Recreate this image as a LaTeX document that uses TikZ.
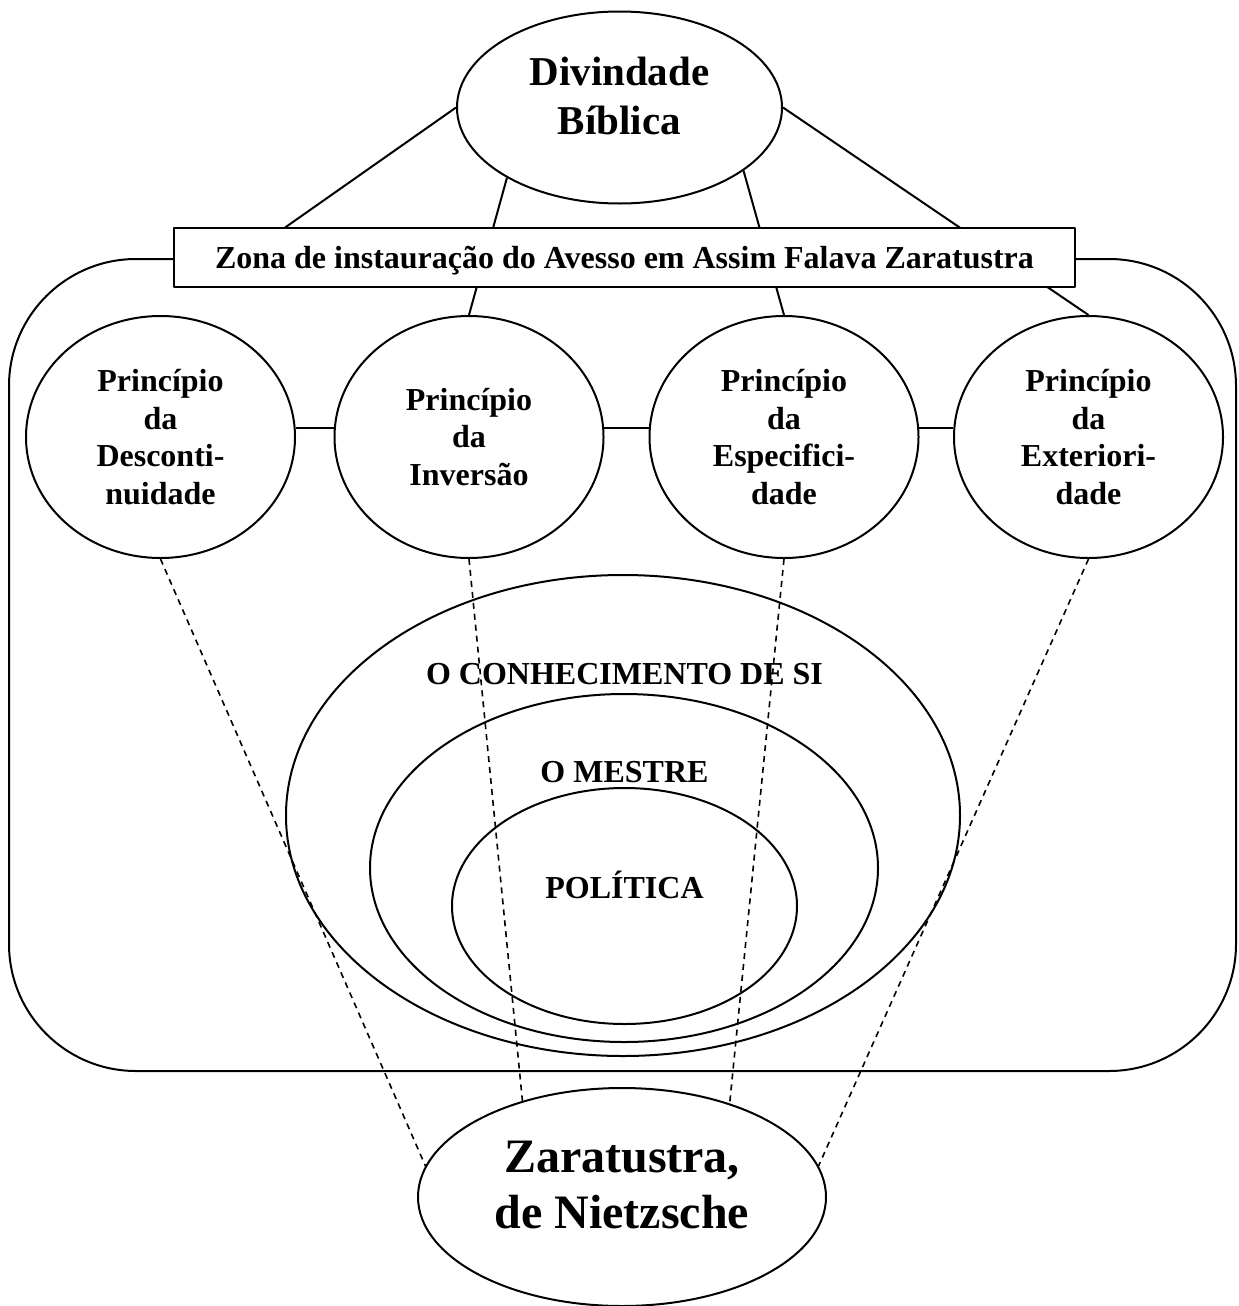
\documentclass[tikz,border=0pt]{standalone}
\usepackage{fontspec}
\setmainfont{Liberation Serif}
\usetikzlibrary{shapes.geometric,calc}
\tikzset{
  linha/.style={line width=1pt},
  elipse/.style={draw,ellipse,linha,inner sep=0pt,align=center},
  principio/.style={elipse,minimum width=134.5pt,minimum height=121pt,
    font=\fontsize{16}{18.7}\selectfont\bfseries},
  rotulo/.style={font=\fontsize{16}{19}\selectfont\bfseries,anchor=base,inner sep=0pt},
  tracejado/.style={line width=0.8pt,dash pattern=on 3pt off 2.5pt},
}
\begin{document}
\begin{tikzpicture}[x=0.5pt,y=-0.5pt,line join=round]
  \useasboundingbox (0,0) rectangle (1238,1306);
  \draw[linha,rounded corners=63.5pt] (9,259) rectangle (1236,1071);
  \node[elipse,minimum width=162.5pt,minimum height=96pt] (dv) at (619.5,107.5) {};
  \node[font=\fontsize{20.5}{24.5}\selectfont\bfseries,align=center] (dvtxt) at (619.5,95.5) {Divindade\\Bíblica};
  \node[principio] (p1) at (160.5,437) {Princípio\\da\\Desconti-\\nuidade};
  \node[principio] (p2) at (469,437) {Princípio\\da\\Inversão};
  \node[principio] (p3) at (784,437) {Princípio\\da\\Especifici-\\dade};
  \node[principio] (p4) at (1088.5,437) {Princípio\\da\\Exteriori-\\dade};
  \coordinate (l1) at ($(dv.west)!0.578!(p1.north)$);
  \draw[linha] (dv.west) -- (l1);
  \draw[linha] (dv.212.8) -- (p2.north);
  \draw[linha] (dv.333.2) -- (p3.north);
  \draw[linha] (dv.east) -- (p4.north);
  \node[draw,linha,fill=white,minimum width=450.5pt,minimum height=29.5pt,inner sep=0pt,
    text depth=0pt,font=\fontsize{16}{19}\selectfont\bfseries] (zona) at (624.5,257.5)
    {Zona de instauração do Avesso em Assim Falava Zaratustra};
  \draw[linha] (p1.4) -- (p2.176);
  \draw[linha] (p2.4) -- (p3.176);
  \draw[linha] (p3.4) -- (p4.176);
  \node[elipse,minimum width=337pt,minimum height=240.5pt] (si) at (623,815.5) {};
  \node[elipse,minimum width=254pt,minimum height=174pt] (mestre) at (624,868) {};
  \node[elipse,minimum width=172.5pt,minimum height=118pt] (pol) at (624.5,906) {};
  \node[rotulo] (sitxt) at (624.5,684) {O CONHECIMENTO DE SI};
  \node[rotulo] (mestretxt) at (624.5,782) {O MESTRE};
  \node[rotulo] (poltxt) at (624.5,898) {POLÍTICA};
  \node[elipse,minimum width=204pt,minimum height=109pt] (zn) at (622,1197) {};
  \node[font=\fontsize{24}{28}\selectfont\bfseries,align=center] (zntxt) at (622,1185) {Zaratustra,\\de Nietzsche};
  \draw[tracejado] (p1.south) -- (zn.171.6);
  \draw[tracejado] (p2.south) -- (zn.136.5);
  \draw[tracejado] (p3.south) -- (zn.41.8);
  \draw[tracejado] (p4.south) -- (zn.9);
\end{tikzpicture}
\end{document}
